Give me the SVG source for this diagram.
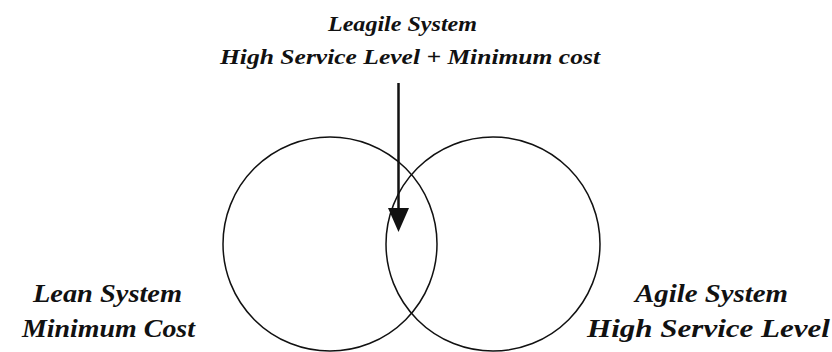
<svg xmlns="http://www.w3.org/2000/svg" width="832" height="352" viewBox="0 0 832 352">
<style>
.lbl{font-family:"Liberation Serif","DejaVu Serif",serif;font-style:italic;font-weight:bold;fill:#111}
.big{font-size:26px}
.small{font-size:21px}
.circ{fill:none;stroke:#111;stroke-width:1.5}
.conn{stroke:#111;stroke-width:2.5;fill:none}
</style>
<defs>
<marker id="ah" markerWidth="26" markerHeight="24" refX="0" refY="0" viewBox="0 -12 26 24" orient="auto" markerUnits="userSpaceOnUse" overflow="visible">
<path d="M0,-10.5 L24,0 L0,10.5 Z" fill="#111"/>
</marker>
</defs>
<rect width="832" height="352" fill="#fff"/>
<g id="lean">
<circle class="circ" cx="330" cy="244" r="107"/>
<text class="lbl big" x="33" y="302" textLength="149" lengthAdjust="spacingAndGlyphs">Lean System</text>
<text class="lbl big" x="22" y="337" textLength="173" lengthAdjust="spacingAndGlyphs">Minimum Cost</text>
</g>
<g id="agile">
<circle class="circ" cx="493" cy="244" r="107"/>
<text class="lbl big" x="635" y="302" textLength="153" lengthAdjust="spacingAndGlyphs">Agile System</text>
<text class="lbl big" x="587" y="337" textLength="243" lengthAdjust="spacingAndGlyphs">High Service Level</text>
</g>
<g id="leagile">
<text class="lbl small" x="328" y="31" textLength="149" lengthAdjust="spacingAndGlyphs">Leagile System</text>
<text class="lbl small" x="220" y="64" textLength="380" lengthAdjust="spacingAndGlyphs">High Service Level + Minimum cost</text>
</g>
<g id="connectors">
<line class="conn" x1="398.5" y1="83" x2="398.5" y2="208" marker-end="url(#ah)"/>
</g>
</svg>
